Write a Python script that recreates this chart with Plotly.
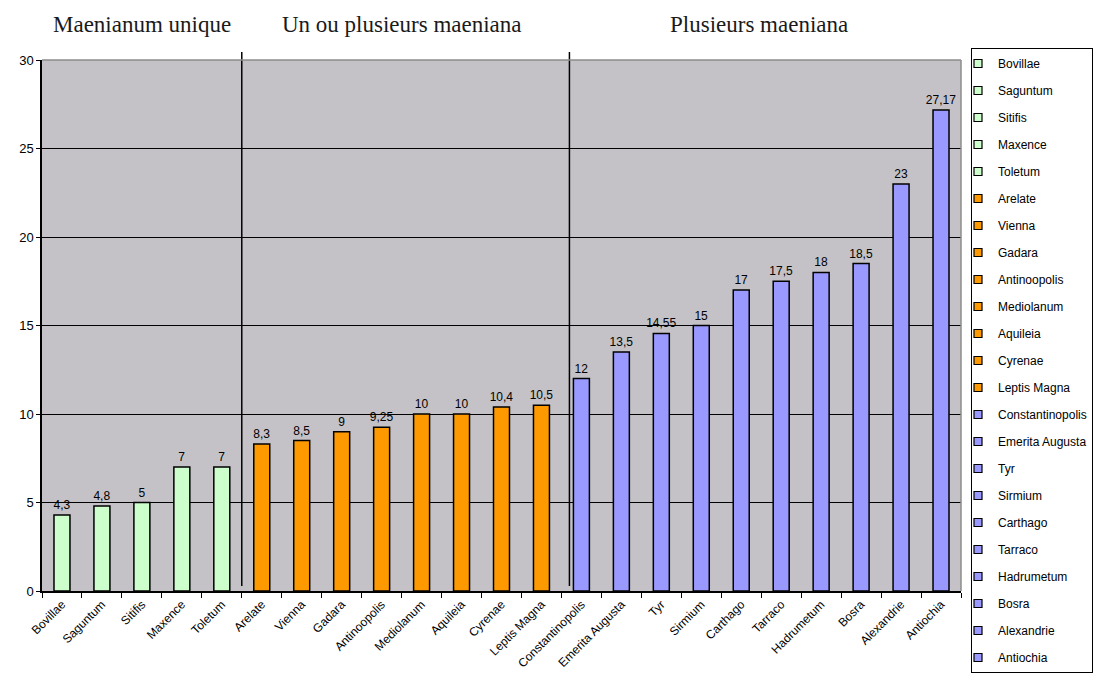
import plotly.graph_objects as go

categories = ["Bovillae", "Saguntum", "Sitifis", "Maxence", "Toletum",
              "Arelate", "Vienna", "Gadara", "Antinoopolis", "Mediolanum",
              "Aquileia", "Cyrenae", "Leptis Magna",
              "Constantinopolis", "Emerita Augusta", "Tyr", "Sirmium", "Carthago",
              "Tarraco", "Hadrumetum", "Bosra", "Alexandrie", "Antiochia"]
values = [4.3, 4.8, 5, 7, 7,
          8.3, 8.5, 9, 9.25, 10, 10, 10.4, 10.5,
          12, 13.5, 14.55, 15, 17, 17.5, 18, 18.5, 23, 27.17]
value_labels = ["4,3", "4,8", "5", "7", "7",
                "8,3", "8,5", "9", "9,25", "10", "10", "10,4", "10,5",
                "12", "13,5", "14,55", "15", "17", "17,5", "18", "18,5", "23", "27,17"]
groups = [0] * 5 + [1] * 8 + [2] * 10
group_names = ["Maenianum unique", "Un ou plusieurs maeniana", "Plusieurs maeniana"]
group_colors = ["#CCFFCC", "#FF9900", "#9999FF"]
y_ticks = [0, 5, 10, 15, 20, 25, 30]

# page has an 8px body margin: figure coords = page coords - 8
OFF = 8
W, H = 1108 - OFF, 694 - OFF
L, R, T, B = 42 - OFF, 961 - OFF, 60 - OFF, 591 - OFF  # plot area in figure px


def py(page_y):
    return (B - (page_y - OFF)) / (B - T)


fig = go.Figure()
for i, (cat, val, lab) in enumerate(zip(categories, values, value_labels)):
    col = group_colors[groups[i]]
    fig.add_trace(go.Bar(
        x=[cat], y=[val], name=cat, text=[lab], textposition="outside",
        constraintext="none",
        textfont=dict(family="Liberation Sans, Arial", size=12, color="black"),
        cliponaxis=False, width=0.4, showlegend=False,
        marker=dict(color=col, line=dict(color="black", width=1.5)),
        hoverinfo="x+y",
    ))
    # legend entry (small square swatch)
    fig.add_trace(go.Scatter(
        x=[None], y=[None], mode="markers", name=cat, legendgroup=f"g{i}",
        marker=dict(symbol="square", size=8, color=col, line=dict(color="black", width=1.2)),
        showlegend=True, hoverinfo="skip",
    ))

# separator lines between groups
for xpos in [4.5, 12.7]:
    fig.add_shape(type="line", xref="x", yref="paper", x0=xpos, x1=xpos,
                  y0=py(586), y1=py(52),
                  line=dict(color="black", width=1.5), layer="above")
# gray top & right border
fig.add_shape(type="line", xref="paper", yref="paper", x0=0, x1=1, y0=1, y1=1,
              line=dict(color="#8c8c8c", width=1.5), layer="above")
fig.add_shape(type="line", xref="paper", yref="paper", x0=1, x1=1, y0=0, y1=1,
              line=dict(color="#8c8c8c", width=1.5), layer="above")

# group headers
header_x = [2.0, 8.5, 17.45]
for gx, gname in zip(header_x, group_names):
    fig.add_annotation(x=gx, xref="x", y=py(25), yref="paper", yanchor="middle",
                       text=gname, showarrow=False,
                       font=dict(family="Liberation Serif, Times New Roman", size=23, color="#1a1a1a"))

fig.update_layout(
    width=W, height=H,
    margin=dict(l=L, r=W - R, t=T, b=H - B, autoexpand=False),
    paper_bgcolor="white", plot_bgcolor="#c4c2c6",
    barmode="overlay",
    showlegend=True,
    legend=dict(x=(971 - 42) / (R - L), xref="paper", y=1 - (48 - OFF) / H, yref="container",
                xanchor="left", yanchor="top", maxheight=1, indentation=-14,
                bordercolor="black", borderwidth=1, bgcolor="white",
                font=dict(family="Liberation Sans, Arial", size=12, color="black"),
                traceorder="grouped", tracegroupgap=8, itemwidth=30),
    xaxis=dict(categoryorder="array", categoryarray=categories,
               tickangle=-45, tickson="boundaries", ticks="outside", ticklen=5,
               tickcolor="black", showline=True, linecolor="black", linewidth=1.5,
               tickfont=dict(family="Liberation Sans, Arial", size=12, color="black"),
               showgrid=False, automargin=False),
    yaxis=dict(range=[0, 30], tickvals=y_ticks, ticks="outside", ticklen=4,
               tickcolor="black", showline=True, linecolor="black", linewidth=1.5,
               gridcolor="black", gridwidth=1, zeroline=False, automargin=False,
               tickfont=dict(family="Liberation Sans, Arial", size=13, color="black")),
)

fig.write_html("out.html")
